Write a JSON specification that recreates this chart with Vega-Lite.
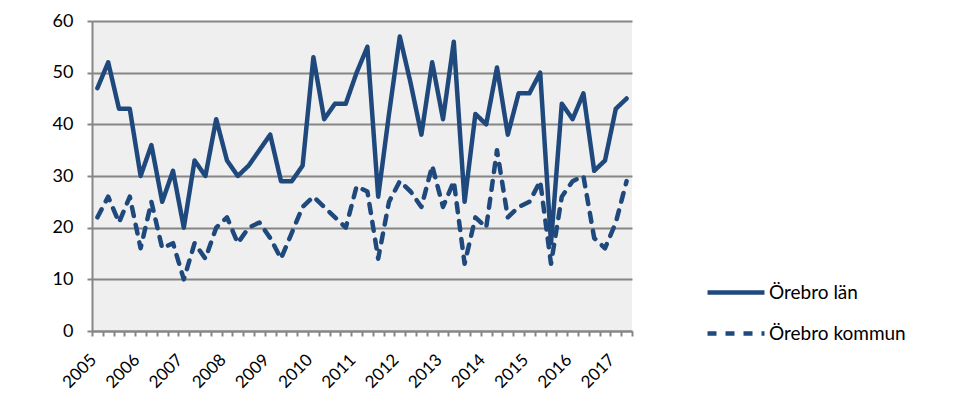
{
  "$schema": "https://vega.github.io/schema/vega-lite/v6.json",
  "width": 540,
  "height": 310,
  "autosize": "none",
  "padding": {"left": 92, "top": 21, "right": 328, "bottom": 75},
  "background": "white",
  "config": {"view": {"fill": "#efefef", "stroke": null}, "font": "Lato"},
  "data": {"values": [
    {"k":"2005K1","Örebro län":47,"Örebro kommun":22},
    {"k":"2005K2","Örebro län":52,"Örebro kommun":26},
    {"k":"2005K3","Örebro län":43,"Örebro kommun":21},
    {"k":"2005K4","Örebro län":43,"Örebro kommun":26},
    {"k":"2006K1","Örebro län":30,"Örebro kommun":16},
    {"k":"2006K2","Örebro län":36,"Örebro kommun":25},
    {"k":"2006K3","Örebro län":25,"Örebro kommun":16},
    {"k":"2006K4","Örebro län":31,"Örebro kommun":17},
    {"k":"2007K1","Örebro län":20,"Örebro kommun":10},
    {"k":"2007K2","Örebro län":33,"Örebro kommun":17},
    {"k":"2007K3","Örebro län":30,"Örebro kommun":14},
    {"k":"2007K4","Örebro län":41,"Örebro kommun":20},
    {"k":"2008K1","Örebro län":33,"Örebro kommun":22},
    {"k":"2008K2","Örebro län":30,"Örebro kommun":17},
    {"k":"2008K3","Örebro län":32,"Örebro kommun":20},
    {"k":"2008K4","Örebro län":35,"Örebro kommun":21},
    {"k":"2009K1","Örebro län":38,"Örebro kommun":18},
    {"k":"2009K2","Örebro län":29,"Örebro kommun":14},
    {"k":"2009K3","Örebro län":29,"Örebro kommun":19},
    {"k":"2009K4","Örebro län":32,"Örebro kommun":24},
    {"k":"2010K1","Örebro län":53,"Örebro kommun":26},
    {"k":"2010K2","Örebro län":41,"Örebro kommun":24},
    {"k":"2010K3","Örebro län":44,"Örebro kommun":22},
    {"k":"2010K4","Örebro län":44,"Örebro kommun":20},
    {"k":"2011K1","Örebro län":50,"Örebro kommun":28},
    {"k":"2011K2","Örebro län":55,"Örebro kommun":27},
    {"k":"2011K3","Örebro län":26,"Örebro kommun":14},
    {"k":"2011K4","Örebro län":42,"Örebro kommun":25},
    {"k":"2012K1","Örebro län":57,"Örebro kommun":29},
    {"k":"2012K2","Örebro län":48,"Örebro kommun":27},
    {"k":"2012K3","Örebro län":38,"Örebro kommun":24},
    {"k":"2012K4","Örebro län":52,"Örebro kommun":32},
    {"k":"2013K1","Örebro län":41,"Örebro kommun":24},
    {"k":"2013K2","Örebro län":56,"Örebro kommun":29},
    {"k":"2013K3","Örebro län":25,"Örebro kommun":13},
    {"k":"2013K4","Örebro län":42,"Örebro kommun":22},
    {"k":"2014K1","Örebro län":40,"Örebro kommun":20},
    {"k":"2014K2","Örebro län":51,"Örebro kommun":35},
    {"k":"2014K3","Örebro län":38,"Örebro kommun":22},
    {"k":"2014K4","Örebro län":46,"Örebro kommun":24},
    {"k":"2015K1","Örebro län":46,"Örebro kommun":25},
    {"k":"2015K2","Örebro län":50,"Örebro kommun":29},
    {"k":"2015K3","Örebro län":17,"Örebro kommun":13},
    {"k":"2015K4","Örebro län":44,"Örebro kommun":26},
    {"k":"2016K1","Örebro län":41,"Örebro kommun":29},
    {"k":"2016K2","Örebro län":46,"Örebro kommun":30},
    {"k":"2016K3","Örebro län":31,"Örebro kommun":18},
    {"k":"2016K4","Örebro län":33,"Örebro kommun":16},
    {"k":"2017K1","Örebro län":43,"Örebro kommun":21},
    {"k":"2017K2","Örebro län":45,"Örebro kommun":29}
  ]},
  "transform": [{"fold": ["Örebro län", "Örebro kommun"], "as": ["serie", "v"]}],
  "mark": {"type": "line", "strokeWidth": 4.5, "color": "#1F497D", "strokeJoin": "round", "strokeCap": "round"},
  "encoding": {
    "x": {
      "field": "k", "type": "ordinal", "bandPosition": 0.5,
      "scale": {"type": "band", "paddingInner": 0, "paddingOuter": 0},
      "axis": {
        "title": null, "tickBand": "extent",
        "labelExpr": "indexof(datum.label, 'K1') > 0 ? slice(datum.label, 0, 4) : ''",
        "labelAngle": -45, "labelAlign": "right", "labelBaseline": "middle",
        "labelFontSize": 17, "labelColor": "black", "labelPadding": 21, "labelOffset": -4,
        "labelOverlap": false, "labelFlush": false,
        "tickColor": "#868686", "tickSize": 5, "tickWidth": 2,
        "domainColor": "#868686", "domainWidth": 2, "grid": false
      }
    },
    "y": {
      "field": "v", "type": "quantitative",
      "scale": {"domain": [0, 60]},
      "axis": {
        "title": null, "values": [0, 10, 20, 30, 40, 50, 60],
        "grid": true, "gridColor": "#868686", "gridWidth": 2,
        "domainColor": "#868686", "domainWidth": 2,
        "tickColor": "#868686", "tickWidth": 2, "tickSize": 5,
        "labelFontSize": 18, "labelColor": "black", "labelPadding": 14
      }
    },
    "strokeDash": {
      "field": "serie", "type": "nominal",
      "scale": {"domain": ["Örebro län", "Örebro kommun"], "range": [[1, 0], [9, 9]]},
      "legend": {
        "title": null, "orient": "none", "legendX": 613, "legendY": 240.5,
        "symbolType": "stroke", "symbolSize": 3249, "symbolStrokeWidth": 4.5,
        "symbolStrokeColor": "#1F497D", "labelFontSize": 19, "labelColor": "black",
        "rowPadding": -16.5, "labelOffset": 2, "padding": 0
      }
    }
  }
}
